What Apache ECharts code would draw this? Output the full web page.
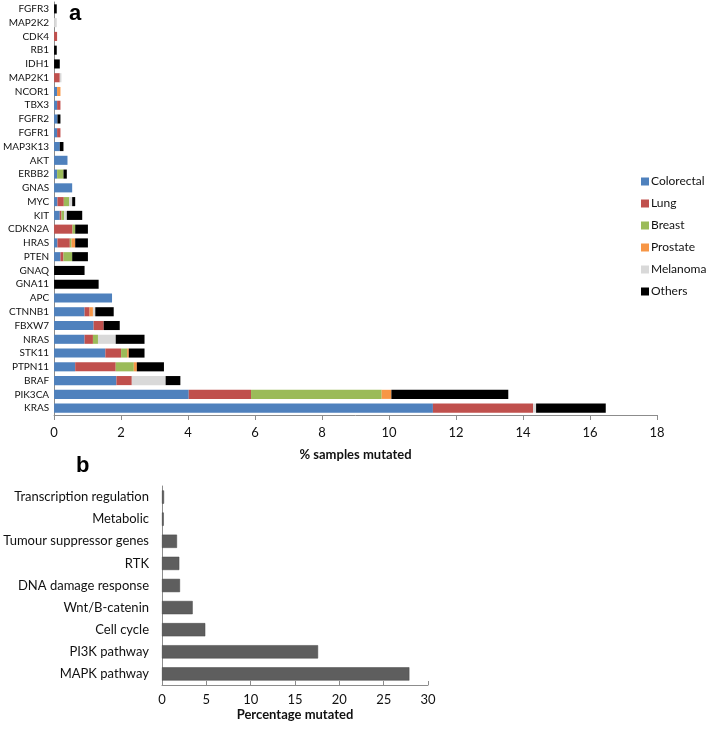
<!DOCTYPE html>
<html><head><meta charset="utf-8">
<script src="https://cdn.jsdelivr.net/npm/echarts@6/dist/echarts.min.js"></script>
<style>html,body{margin:0;padding:0;background:#fff}#c{width:708px;height:731px}</style>
</head><body><div id="c"></div>
<script>
const genes = ["FGFR3","MAP2K2","CDK4","RB1","IDH1","MAP2K1","NCOR1","TBX3","FGFR2","FGFR1","MAP3K13","AKT","ERBB2","GNAS","MYC","KIT","CDKN2A","HRAS","PTEN","GNAQ","GNA11","APC","CTNNB1","FBXW7","NRAS","STK11","PTPN11","BRAF","PIK3CA","KRAS"];
const colorectal = [0,0,0,0,0,0,0.09,0.09,0.10,0.09,0.17,0.40,0.09,0.54,0.10,0.17,0,0.10,0.19,0,0,1.73,0.91,1.18,0.91,1.53,0.63,1.86,4.02,11.31];
const lung       = [0,0,0.09,0,0,0.17,0,0.10,0,0.10,0,0,0,0,0.19,0.05,0.55,0.37,0.09,0,0,0,0.15,0.30,0.25,0.47,1.21,0.46,1.86,2.99];
const breast     = [0,0,0,0,0,0,0,0,0,0,0,0,0.19,0,0.16,0.08,0.08,0.05,0.26,0,0,0,0,0,0.15,0.18,0.54,0,3.90,0];
const prostate   = [0,0,0,0,0,0,0.10,0,0,0,0,0,0,0,0,0,0,0.11,0,0,0,0,0.10,0,0,0.05,0.09,0,0.29,0];
const melanoma   = [0,0.08,0,0,0,0.05,0,0,0,0,0,0,0,0,0.09,0.08,0,0,0,0,0,0,0.07,0,0.53,0,0,1.01,0,0.09];
const others     = [0.08,0,0,0.08,0.17,0,0,0,0.09,0,0.11,0,0.10,0,0.09,0.46,0.38,0.38,0.47,0.91,1.33,0,0.55,0.48,0.86,0.47,0.81,0.44,3.49,2.08];
const seriesNames = ["Colorectal","Lung","Breast","Prostate","Melanoma","Others"];
const seriesColors = ["#4f81bd","#c0504d","#9bbb59","#f79646","#d9d9d9","#000000"];
const xTicksTop = [0,2,4,6,8,10,12,14,16,18];

const pathways = ["Transcription regulation","Metabolic","Tumour suppressor genes","RTK","DNA damage response","Wnt/B-catenin","Cell cycle","PI3K pathway","MAPK pathway"];
const pathwayValues = [0.23,0.2,1.69,1.95,2.03,3.46,4.88,17.6,27.9];

const font = "Lato, 'Open Sans', sans-serif";
const chart = echarts.init(document.getElementById('c'), null, {renderer:'canvas'});
const stackData = [colorectal,lung,breast,prostate,melanoma,others];
const series = seriesNames.map((n,i)=>({
  name:n, type:'bar', stack:'s', xAxisIndex:0, yAxisIndex:0,
  data: stackData[i], itemStyle:{color:seriesColors[i]}, barCategoryGap:'34%'
}));
series.push({
  name:'pathway', type:'bar', xAxisIndex:1, yAxisIndex:1, data:pathwayValues,
  itemStyle:{color:'#5e5e5e', borderColor:'#474747', borderWidth:0.5}, barCategoryGap:'40%'
});
const axisLine = {lineStyle:{color:'#8c8c8c', width:1}};
chart.setOption({
  animation:false,
  textStyle:{fontFamily:font},
  title:[
    {text:'a', left:64, top:-2, textStyle:{fontFamily:'Liberation Sans, Arial', fontWeight:'bold', fontSize:22, color:'#000'}},
    {text:'b', left:71, top:450, textStyle:{fontFamily:'Liberation Sans, Arial', fontWeight:'bold', fontSize:22, color:'#000'}}
  ],
  legend:{
    data:seriesNames, orient:'vertical', left:636, top:170, itemWidth:8, itemHeight:8, itemGap:9,
    icon:'rect', textStyle:{fontFamily:font, fontSize:12, lineHeight:13, color:'#111', padding:[0,0,0,-3]}
  },
  grid:[
    {left:53, top:2, width:604, height:413},
    {left:162, top:486, width:266, height:199}
  ],
  xAxis:[
    {gridIndex:0, type:'value', min:0, max:18, interval:2, splitLine:{show:false},
     axisLine:{show:true, ...axisLine}, axisTick:{show:true, length:5, lineStyle:{color:'#8c8c8c'}},
     axisLabel:{fontSize:13, color:'#111', margin:11, fontFamily:font},
     name:'% samples mutated', nameLocation:'middle', nameGap:33,
     nameTextStyle:{fontWeight:'bold', fontSize:13, color:'#111', fontFamily:font}},
    {gridIndex:1, type:'value', min:0, max:30, interval:5, splitLine:{show:false},
     axisLine:{show:true, ...axisLine}, axisTick:{show:true, inside:true, length:4, lineStyle:{color:'#8c8c8c'}},
     axisLabel:{fontSize:13, color:'#111', margin:8, fontFamily:font},
     name:'Percentage mutated', nameLocation:'middle', nameGap:23,
     nameTextStyle:{fontWeight:'bold', fontSize:13, color:'#111', fontFamily:font}}
  ],
  yAxis:[
    {gridIndex:0, type:'category', data:genes, inverse:true,
     axisLine:{show:true, ...axisLine}, axisTick:{show:false},
     axisLabel:{fontSize:10, color:'#111', margin:5, interval:0, fontFamily:font}},
    {gridIndex:1, type:'category', data:pathways, inverse:true,
     axisLine:{show:true, ...axisLine}, axisTick:{show:false},
     axisLabel:{fontSize:13, color:'#111', margin:13, interval:0, fontFamily:font}}
  ],
  series:series
});
</script></body></html>
